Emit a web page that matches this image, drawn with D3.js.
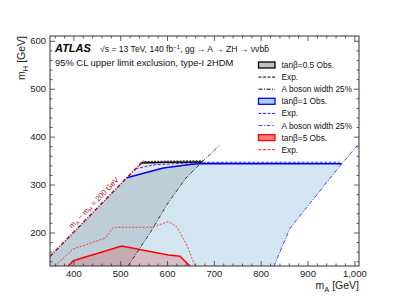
<!DOCTYPE html>
<html>
<head>
<meta charset="utf-8">
<script src="https://cdn.jsdelivr.net/npm/d3@7"></script>
<style>
  body { margin: 0; background: #fff; }
  svg text { font-family: "Liberation Sans", Arial, Helvetica, sans-serif; }
</style>
</head>
<body>
<svg id="chart"></svg>
<script>
// axis ticks
const xTicks = [400, 500, 600, 700, 800, 900, 1000];
const yTicks = [200, 300, 400, 500, 600];

// kinematic limit mA - mH = 200 GeV
const diagLine = [[350, 150], [550, 350]];

// tan(beta) = 0.5 : [mA, mH]
const tb05Obs = [[540, 340], [545, 345], [600, 346.5], [675, 347]];
const tb05Exp = [[541, 341], [548, 348], [610, 349], [676, 349.5]];
const tb05Width = [[516.6, 130], [563.6, 198.9], [602, 261.5], [640.5, 313.7], [674.6, 347.1], [713, 382.6]];

// tan(beta) = 1
const tb1Obs = [[514, 314], [592, 334.6], [653, 342.3], [677, 344], [973, 343.4]];
const tb1Exp = [[533, 333], [570, 340.9], [677, 346.5], [969, 346.5]];
const tb1Width = [[828.4, 130], [862.6, 208.7], [973, 343.4], [1012, 388]];

// tan(beta) = 5
const tb5Obs = [[389, 130], [399.8, 141.1], [503.1, 171.8], [602.7, 153], [627.7, 150.3], [649, 130]];
const tb5Exp = [[360.7, 130.6], [399.8, 165.5], [467.5, 187.9], [485.2, 210.9], [567.2, 210.9],
                [602.7, 222.6], [620.6, 212.2], [642, 174], [659.7, 130.6]];

const legendLabels = ["tan\u03b2=0.5 Obs.", "Exp.", "A boson width 25%",
                      "tan\u03b2=1 Obs.", "Exp.", "A boson width 25%",
                      "tan\u03b2=5 Obs.", "Exp."];

const W = 399, H = 299;
const margin = {top: 36, right: 40, bottom: 33, left: 50};
const iw = W - margin.left - margin.right;
const ih = H - margin.top - margin.bottom;

const svg = d3.select("#chart").attr("width", W).attr("height", H);

const x = d3.scaleLinear().domain([350, 1010]).range([0, iw]);
const y = d3.scaleLinear().domain([130, 610]).range([ih, 0]);

const g = svg.append("g").attr("transform", `translate(${margin.left},${margin.top})`);

g.append("clipPath").attr("id", "clip")
  .append("rect").attr("width", iw).attr("height", ih);

const plot = g.append("g").attr("clip-path", "url(#clip)");
const line = d3.line().x(d => x(d[0])).y(d => y(d[1]));

// filled regions
const tb1Region = [[350, 130], [350, 150]].concat(tb1Obs, tb1Width.slice(0, 3).reverse());
const tb05Region = [[350, 130], [350, 150]].concat(tb05Obs, tb05Width.slice(0, 5).reverse());

plot.append("path").attr("d", line(tb1Region) + "Z").attr("fill", "rgb(211,229,240)");
plot.append("path").attr("d", line(tb05Region) + "Z").attr("fill", "rgba(30,30,30,0.11)");
plot.append("path").attr("d", line(tb5Obs) + "Z").attr("fill", "rgba(225,60,60,0.24)");

// contour lines
const lines = [
  {d: tb5Exp, c: "#f03030", w: 0.9, dash: "2,1.5"},
  {d: tb5Obs, c: "#ff0000", w: 1.6, dash: null},
  {d: tb1Width, c: "#3030ff", w: 0.9, dash: "4,1.5,1,1.5"},
  {d: tb1Exp, c: "#2020ff", w: 0.9, dash: "3,1.5"},
  {d: tb1Obs, c: "#0000e6", w: 1.6, dash: null},
  {d: tb05Width, c: "#111", w: 0.8, dash: "4,1.5,1,1.5"},
  {d: tb05Obs, c: "#000", w: 1.3, dash: null},
  {d: tb05Exp, c: "#000", w: 0.9, dash: "2,1.2"},
  {d: diagLine, c: "#a3162e", w: 1.6, dash: "4,1.5,1,1.5"}
];
lines.forEach(l => {
  plot.append("path").attr("d", line(l.d)).attr("fill", "none")
    .attr("stroke", l.c).attr("stroke-width", l.w)
    .attr("stroke-dasharray", l.dash);
});

// diagonal label
const lx = x(453), ly = y(253);
const ang = Math.atan2(y(350) - y(150), x(550) - x(350)) * 180 / Math.PI;
const diagText = g.append("text")
  .attr("transform", `translate(${lx},${ly}) rotate(${ang}) translate(0,-3.5)`)
  .attr("text-anchor", "middle").attr("font-size", 7.6).attr("fill", "#a3162e");
diagText.append("tspan").text("m");
diagText.append("tspan").attr("font-size", 5.5).attr("dy", 1.7).text("A");
diagText.append("tspan").attr("dy", -1.7).text(" \u2212 m");
diagText.append("tspan").attr("font-size", 5.5).attr("dy", 1.7).text("H");
diagText.append("tspan").attr("dy", -1.7).text(" = 200 GeV");

// axes, ticks inside on all four sides
const minorX = d3.range(360, 1010, 20).filter(v => !xTicks.includes(v));
const minorY = d3.range(140, 611, 20).filter(v => !yTicks.includes(v));

function styleAxis(sel) {
  sel.select(".domain").remove();
  sel.selectAll("line").attr("stroke", "#333").attr("stroke-width", 0.8);
  sel.selectAll("text").attr("font-size", 9.5).attr("fill", "#222")
    .attr("font-family", "'Liberation Sans', Arial, sans-serif");
}

g.append("g").attr("transform", `translate(0,${ih})`)
  .call(d3.axisBottom(x).tickValues(xTicks).tickSize(-5).tickPadding(4.5)).call(styleAxis);
g.append("g").attr("transform", `translate(0,${ih})`)
  .call(d3.axisBottom(x).tickValues(minorX).tickSize(-2.5).tickFormat("")).call(styleAxis);
g.append("g")
  .call(d3.axisTop(x).tickValues(xTicks).tickSize(-5).tickFormat("")).call(styleAxis);
g.append("g")
  .call(d3.axisTop(x).tickValues(minorX).tickSize(-2.5).tickFormat("")).call(styleAxis);

g.append("g")
  .call(d3.axisLeft(y).tickValues(yTicks).tickSize(-5).tickPadding(4)).call(styleAxis);
g.append("g")
  .call(d3.axisLeft(y).tickValues(minorY).tickSize(-2.5).tickFormat("")).call(styleAxis);
g.append("g").attr("transform", `translate(${iw},0)`)
  .call(d3.axisRight(y).tickValues(yTicks).tickSize(-5).tickFormat("")).call(styleAxis);
g.append("g").attr("transform", `translate(${iw},0)`)
  .call(d3.axisRight(y).tickValues(minorY).tickSize(-2.5).tickFormat("")).call(styleAxis);

g.append("rect").attr("width", iw).attr("height", ih)
  .attr("fill", "none").attr("stroke", "#333").attr("stroke-width", 1);

// axis titles
const xt = svg.append("text").attr("x", margin.left + iw).attr("y", 289)
  .attr("text-anchor", "end").attr("font-size", 10.5).attr("fill", "#222");
xt.append("tspan").text("m");
xt.append("tspan").attr("font-size", 7.5).attr("dy", 2.5).text("A");
xt.append("tspan").attr("dy", -2.5).text(" [GeV]");

const yt = svg.append("text").attr("transform", `translate(25,${margin.top}) rotate(-90)`)
  .attr("text-anchor", "end").attr("font-size", 10.5).attr("fill", "#222");
yt.append("tspan").text("m");
yt.append("tspan").attr("font-size", 7.5).attr("dy", 2.5).text("H");
yt.append("tspan").attr("dy", -2.5).text(" [GeV]");

// header
svg.append("text").attr("x", 55).attr("y", 52).attr("font-size", 11)
  .attr("font-weight", "bold").attr("font-style", "italic").attr("fill", "#000").text("ATLAS");
const hd = svg.append("text").attr("x", 100).attr("y", 52).attr("font-size", 8.6).attr("fill", "#111");
hd.append("tspan").text("\u221as = 13 TeV, 140 fb");
hd.append("tspan").attr("font-size", 6).attr("dy", -3.2).text("\u22121");
hd.append("tspan").attr("dy", 3.2).text(", gg \u2192 A \u2192 ZH \u2192 \u03bd\u03bdbb\u0304");
svg.append("text").attr("x", 55).attr("y", 65.5).attr("font-size", 9.4).attr("fill", "#111")
  .text("95% CL upper limit exclusion, type-I 2HDM");

// legend
const legendStyle = [
  {type: "box", fill: "rgb(192,192,192)", c: "#000"},
  {type: "line", c: "#000", dash: "3,1.5", w: 1},
  {type: "line", c: "#000", dash: "4,1.5,1,1.5", w: 1},
  {type: "box", fill: "rgb(172,210,235)", c: "#0000ff"},
  {type: "line", c: "#2020ff", dash: "3,1.5", w: 1},
  {type: "line", c: "#5050ff", dash: "4,1.5,1,1.5", w: 1},
  {type: "box", fill: "rgb(240,125,125)", c: "#ff0000"},
  {type: "line", c: "#ff2020", dash: "3,1.5", w: 1}
];
const leg = svg.append("g").attr("transform", "translate(258.5,65)");
legendLabels.forEach((lab, i) => {
  const s = legendStyle[i];
  const row = leg.append("g").attr("transform", `translate(0,${i * 12.1})`);
  if (s.type === "box") {
    row.append("rect").attr("x", 0).attr("y", -3).attr("width", 16.5).attr("height", 6)
      .attr("fill", s.fill).attr("stroke", s.c).attr("stroke-width", 1.3);
  } else {
    row.append("line").attr("x1", 0).attr("x2", 16.5).attr("y1", 0).attr("y2", 0)
      .attr("stroke", s.c).attr("stroke-width", s.w).attr("stroke-dasharray", s.dash);
  }
  row.append("text").attr("x", 23).attr("y", 3).attr("font-size", 8.3).attr("fill", "#111").text(lab);
});
</script>
</body>
</html>
